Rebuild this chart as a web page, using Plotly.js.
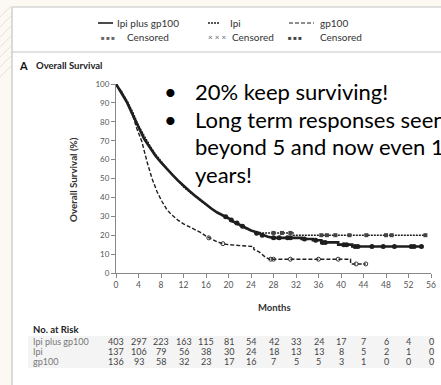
<!DOCTYPE html>
<html>
<head>
<meta charset="utf-8">
<script src="https://cdn.plot.ly/plotly-3.0.1.min.js"></script>
<style>html,body{margin:0;padding:0;background:#fbf9f2;}#chart{width:441px;height:385px;}</style>
</head>
<body>
<div id="chart"></div>
<script>
// ---- Data ----
const ipiGpMonths = [0,1,2,3,4,5,6,7,8,9,10,11,12,13,14,15,16,17,18,19,20,21,22,23,24,25,26,27,28,33,33,35,35,36.5,36.5,39.5,39.5,42,42,54.3];
const ipiGpSurv   = [100,95,90,83.5,77,71,66.5,62,58.5,55,52,49,46,43.5,41,38.5,36,34,32,30.5,29,27,25.5,24,22.5,21.5,20.2,19.2,18.6,18.6,18,18,17.3,17.3,16.2,16.2,15,15,14,14];

const ipiMonths = [0,1,2,3,4,5,6,7,8,9,10,11,12,13,14,15,16,17,18,19,20,21,22,23,24,25,26,31.5,31.5,55];
const ipiSurv   = [100,96,91,85,78,72.5,67.5,63,59,55.5,52,48.5,45.5,43,40.5,38,36,34,32,30,28.5,26.5,25,23.5,22.5,21.8,21.2,21.2,20,20];

const gpMonths = [0,1,2,3,3.7,4.6,5.5,6.4,7.3,8.2,9.1,10,11,12,13,14,15,16,17,18,19,20,22,24.5,24.5,25.5,26.5,27.3,41.7,41.7,44.4];
const gpSurv   = [100,96,90,83,76.5,69.5,59,50,43,37.7,33.3,30.5,28,26,24.5,23,21.5,19.5,17.8,16.5,15.5,15,14.5,14,12.5,11,8.5,7.3,7.3,4.8,4.8];

const ipiGpCensMonths = [19.5,20.5,21.5,22.5,25,26,28,29,30.5,31,33.5,35.5,36.7,37.2,40.5,41,42.5,43,45.5,47.5,49.5,52.5,53,54.3];
const ipiGpCensSurv   = [29.8,28,26.5,24.8,21,20,18.6,18.6,18.6,18.6,18,17.3,16.2,16.2,15,15,14,14,14,14,14,14,14,14];

const ipiCensMonths = [28,29.5,31,36.5,37.5,39,41.5,44.5,48,49,55];
const ipiCensSurv   = [21.2,21.2,21.2,20,20,20,20,20,20,20,20];

const gpCensMonths = [16.5,19,27.5,28,31,36,39.5,42.7,44.4];
const gpCensSurv   = [18.6,15.5,7.3,7.3,7.3,7.3,7.3,4.8,4.8];

const xTicks = [0,4,8,12,16,20,24,28,32,36,40,44,48,52,56];
const yTicks = [0,10,20,30,40,50,60,70,80,90,100];

const riskMonths = [0,4,8,12,16,20,24,28,32,36,40,44,48,52,56];
const riskIpiGp = [403,297,223,163,115,81,54,42,33,24,17,7,6,4,0];
const riskIpi   = [137,106,79,56,38,30,24,18,13,13,8,5,2,1,0];
const riskGp    = [136,93,58,32,23,17,16,7,5,5,3,1,0,0,0];
const riskLabels = ["Ipi plus gp100","Ipi","gp100"];

const bulletLines = ["20% keep surviving!","Long term responses seen","beyond 5 and now even 10","years!"];

// ---- Layout helpers (pixel -> paper, paper spans the plot area) ----
const W = 441, H = 385;
const M = {l:116, r:10, t:84, b:112};
const PW = W - M.l - M.r, PH = H - M.t - M.b;
const px = p => (p - M.l) / PW;
const py = p => (H - M.b - p) / PH;
const INK = '#1e1e1e';
const FONT = 'Lato, "Open Sans", sans-serif';

const traces = [
  {x: gpMonths, y: gpSurv, mode:'lines', line:{color:INK, width:1.4, dash:'4px,2px'}, hoverinfo:'skip', cliponaxis:false},
  {x: ipiMonths, y: ipiSurv, mode:'lines', line:{color:INK, width:1.4, dash:'2px,1px'}, hoverinfo:'skip', cliponaxis:false},
  {x: ipiGpMonths, y: ipiGpSurv, mode:'lines', line:{color:INK, width:2.6}, hoverinfo:'skip', cliponaxis:false},
  {x: ipiGpCensMonths, y: ipiGpCensSurv, mode:'markers', marker:{symbol:'circle', size:5, color:INK}, hoverinfo:'skip', cliponaxis:false},
  {x: ipiCensMonths, y: ipiCensSurv, mode:'markers', marker:{symbol:'square', size:4, color:'#444'}, hoverinfo:'skip', cliponaxis:false},
  {x: gpCensMonths, y: gpCensSurv, mode:'markers', marker:{symbol:'circle-open', size:4, color:'#333', line:{width:1}}, hoverinfo:'skip', cliponaxis:false}
];

const shapes = [];
// white panel
shapes.push({type:'rect', xref:'paper', yref:'paper', x0:px(12), x1:px(445), y0:py(390), y1:py(7), fillcolor:'#ffffff', line:{width:0}, layer:'below'});
shapes.push({type:'line', xref:'paper', yref:'paper', x0:px(12), x1:px(12), y0:py(390), y1:py(7), line:{color:'#c4c4c4', width:1.2}, layer:'below'});
shapes.push({type:'line', xref:'paper', yref:'paper', x0:px(12), x1:px(445), y0:py(7), y1:py(7), line:{color:'#c4c4c4', width:1}, layer:'below'});
shapes.push({type:'line', xref:'paper', yref:'paper', x0:px(12), x1:px(445), y0:py(52), y1:py(52), line:{color:'#c4c4c4', width:1}, layer:'below'});
// hatch on left margin
for (let k = 0; k < 7; k++) {
  const yy = 6 + k * 10;
  shapes.push({type:'line', xref:'paper', yref:'paper', x0:px(0), x1:px(11), y0:py(yy+11), y1:py(yy), line:{color:'#e6e2d8', width:1}, layer:'below'});
}
// risk table band
shapes.push({type:'rect', xref:'paper', yref:'paper', x0:px(28), x1:px(434), y0:py(368), y1:py(336), fillcolor:'#f4f4f4', line:{width:0}, layer:'below'});
// legend line samples
shapes.push({type:'line', xref:'paper', yref:'paper', x0:px(98), x1:px(113), y0:py(23), y1:py(23), line:{color:INK, width:1.6}});
shapes.push({type:'line', xref:'paper', yref:'paper', x0:px(208), x1:px(219), y0:py(23), y1:py(23), line:{color:INK, width:1.4, dash:'2px,1px'}});
shapes.push({type:'line', xref:'paper', yref:'paper', x0:px(289), x1:px(314), y0:py(23), y1:py(23), line:{color:INK, width:1.2, dash:'4px,2px'}});

const ann = [];
function txt(text, x, y, size, opts) {
  ann.push(Object.assign({text:text, xref:'paper', yref:'paper', x:px(x), y:py(y), xanchor:'left', yanchor:'middle', showarrow:false, font:{family:FONT, size:size, color:'#333'}}, opts||{}));
}
// legend text
txt('Ipi plus gp100', 115, 23, 10);
txt('Ipi', 228, 23, 10);
txt('gp100', 318, 23, 10);
txt('■ ■ ■', 99, 37, 6, {font:{family:FONT,size:6,color:'#666'}});
txt('Censored', 125, 37, 10);
txt('× × ×', 206, 37, 8, {font:{family:FONT,size:8,color:'#666'}});
txt('Censored', 230, 37, 10);
txt('■ ■ ■', 286, 37, 6, {font:{family:FONT,size:6,color:'#444'}});
txt('Censored', 318, 37, 10);
// panel title
txt('<b>A</b>', 17, 66, 11, {font:{family:FONT,size:11,color:'#111'}});
txt('<b>Overall Survival</b>', 34, 66, 9.5, {font:{family:FONT,size:9.5,color:'#222'}});
// y-axis title
ann.push({text:'<b>Overall Survival (%)</b>', xref:'paper', yref:'paper', x:px(73), y:py(180), xanchor:'center', yanchor:'middle', textangle:-90, showarrow:false, font:{family:FONT, size:9.8, color:'#333'}});
// x-axis title
ann.push({text:'<b>Months</b>', xref:'paper', yref:'paper', x:px(274), y:py(307), xanchor:'center', yanchor:'middle', showarrow:false, font:{family:FONT, size:9.5, color:'#333'}});
// bullet text
const lineY = [91.5, 119, 146.5, 174];
bulletLines.forEach((s, i) => {
  txt(s, 193, lineY[i], 22, {font:{family:FONT, size:22, color:'#000'}});
});
txt('•', 162, lineY[0], 22, {font:{family:FONT, size:22, color:'#000'}});
txt('•', 162, lineY[1], 22, {font:{family:FONT, size:22, color:'#000'}});
// risk table
txt('<b>No. at Risk</b>', 31, 329.5, 9.5, {font:{family:FONT,size:9.5,color:'#222'}});
const rowY = [341.5, 351.5, 361.5];
const rows = [riskIpiGp, riskIpi, riskGp];
rows.forEach((vals, r) => {
  txt(riskLabels[r], 31, rowY[r], 9, {font:{family:FONT,size:9,color:'#777'}});
  vals.forEach((v, c) => {
    ann.push({text:String(v), xref:'x', yref:'paper', x:riskMonths[c], y:py(rowY[r]), xanchor:'center', yanchor:'middle', showarrow:false, font:{family:FONT, size:9, color:'#444'}});
  });
});

const layout = {
  width: W, height: H,
  margin: {l:M.l, r:M.r, t:M.t, b:M.b, pad:0},
  paper_bgcolor:'#fbf9f2',
  plot_bgcolor:'rgba(0,0,0,0)',
  showlegend:false,
  xaxis: {range:[0,56], tickvals:xTicks, showgrid:false, zeroline:false, showline:true, linecolor:'#888', linewidth:1, ticks:'outside', ticklen:4, tickcolor:'#888', tickfont:{family:FONT, size:8.5, color:'#555'}, fixedrange:true},
  yaxis: {range:[0,100], tickvals:yTicks, showgrid:false, zeroline:false, showline:true, linecolor:'#888', linewidth:1, ticks:'outside', ticklen:4, tickcolor:'#888', tickfont:{family:FONT, size:8, color:'#555'}, fixedrange:true},
  shapes: shapes,
  annotations: ann
};

Plotly.newPlot('chart', traces, layout, {displayModeBar:false, staticPlot:true});
</script>
</body>
</html>
